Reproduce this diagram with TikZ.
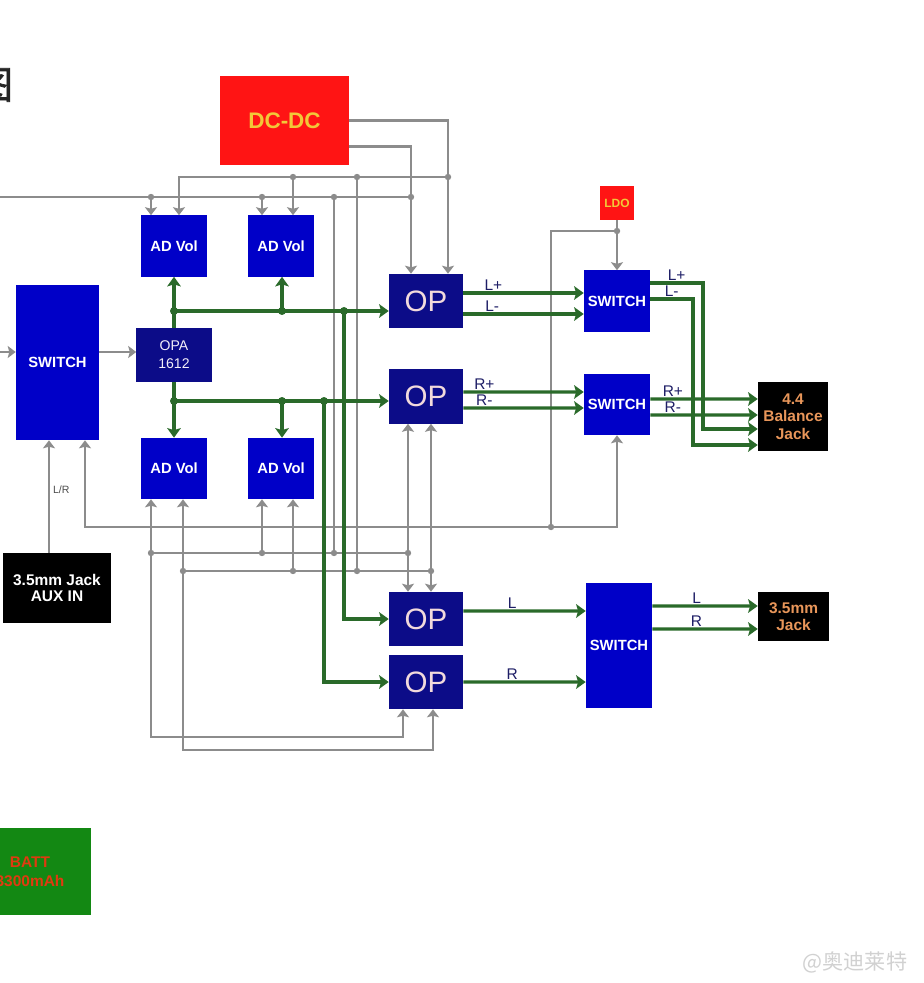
\documentclass[tikz,border=0pt]{standalone}
\usepackage{fontspec}
\setmainfont{Liberation Sans}
\newfontfamily\cjkfont{Noto Sans CJK SC}
\newfontfamily\cjkgras{Noto Sans CJK SC}[FakeBold=2]
\usetikzlibrary{arrows.meta,calc}
\definecolor{bleu}{HTML}{0000C8}
\definecolor{marine}{HTML}{0C0C88}
\definecolor{rouge}{HTML}{FF1414}
\definecolor{jaune}{HTML}{F2C838}
\definecolor{cuivre}{HTML}{E8965A}
\definecolor{gris}{HTML}{8C8C8C}
\definecolor{vert}{HTML}{2A6A2A}
\definecolor{vertbatt}{HTML}{138813}
\definecolor{rougebatt}{HTML}{E03A10}
\definecolor{rose}{HTML}{F2DADC}
\definecolor{encre}{HTML}{1E1E66}

\begin{document}
\begin{tikzpicture}[x=0.025cm,y=-0.025cm,
  blk/.style={inner sep=0pt,align=center},
  adv/.style={blk,fill=bleu,text=white,font=\fontsize{10.5}{12}\selectfont\bfseries,minimum width=1.65cm,minimum height=1.525cm},
  op/.style={blk,fill=marine,text=rose,font=\fontsize{21}{22}\selectfont,minimum width=1.85cm,minimum height=1.35cm},
  jk/.style={blk,fill=black,text=cuivre,font=\fontsize{11}{12.4}\selectfont\bfseries},
  gw/.style={draw=gris,line width=1.7pt},
  gwa/.style={gw,-{Stealth[length=2mm,width=3mm,inset=0.4mm]}},
  gn/.style={draw=vert,line width=2.3pt},
  gna/.style={gn,-{Stealth[length=2.4mm,width=3.4mm,inset=0.5mm]}},
  sig/.style={font=\fontsize{11}{12}\selectfont,text=encre,inner sep=0.8pt},
  lr/.style={font=\fontsize{7.5}{8}\selectfont,text=black!70,inner sep=2pt}]
  \path[use as bounding box,fill=white] (0,0) rectangle (923,983);
  \clip (0,0) rectangle (923,983);
  % Titre et alimentation
  \node[font=\cjkgras\fontsize{27}{28}\selectfont,text=black!85] (titre) at (-6,85) {图};
  \node[blk,fill=rouge,text=jaune,font=\fontsize{16}{18}\selectfont\bfseries,minimum width=3.225cm,minimum height=2.225cm] (dcdc) at (284.5,120.5) {DC-DC};
  \node[blk,fill=rouge,text=jaune,font=\fontsize{8.5}{9}\selectfont\bfseries,minimum size=0.85cm] (ldo) at (617,203) {LDO};
  % Entree
  \node[adv,minimum width=2.075cm,minimum height=3.875cm] (swin) at (57.5,362.5) {SWITCH};
  \node[blk,fill=black,text=white,font=\fontsize{11}{12}\selectfont\bfseries,minimum width=2.7cm,minimum height=1.75cm] (aux) at (57,588) {3.5mm Jack\\AUX IN};
  \node[blk,fill=marine,text=rose!80!blue!20,font=\fontsize{10}{12.8}\selectfont,minimum width=1.875cm,minimum height=1.35cm] (opa) at (174,355) {OPA\\1612};
  % Volume
  \node[adv] (adv1) at (174,246) {AD Vol};
  \node[adv] (adv2) at (281,246) {AD Vol};
  \node[adv] (adv3) at (174,468.5) {AD Vol};
  \node[adv] (adv4) at (281,468.5) {AD Vol};
  % Etages de sortie
  \node[op] (op1) at (426,301) {OP};
  \node[op] (op2) at (426,396.5) {OP};
  \node[op] (op3) at (426,619) {OP};
  \node[op] (op4) at (426,682) {OP};
  \node[adv] (swl) at (617,301) {SWITCH};
  \node[adv] (swr) at (617,404.5) {SWITCH};
  \node[adv,minimum height=3.125cm] (swo) at (619,645.5) {SWITCH};
  \node[jk,minimum width=1.75cm,minimum height=1.725cm] (bal) at (793,416.5) {4.4\\Balance\\Jack};
  \node[jk,minimum width=1.775cm,minimum height=1.225cm] (jack) at (793.5,616.5) {3.5mm\\Jack};
  \node[blk,fill=vertbatt,text=rougebatt,font=\fontsize{11}{13.5}\selectfont\bfseries,minimum width=3.05cm,minimum height=2.175cm] (batt) at (30,871.5) {BATT\\3300mAh};
  \node[font=\cjkfont\fontsize{15}{16}\selectfont,text=black!18] (wm) at (855,962) {@奥迪莱特};
  % Points de liaison
  \coordinate (inL) at (-10,352);
  \coordinate (bL) at (-10,197);
  \coordinate (jA1) at (293,177); \coordinate (jA2) at (357,177); \coordinate (jA3) at (448,177);
  \coordinate (jB1) at (151,197); \coordinate (jB2) at (262,197); \coordinate (jB3) at (334,197); \coordinate (jB4) at (411,197);
  \coordinate (jC1) at (151,553); \coordinate (jC2) at (262,553); \coordinate (jC3) at (334,553); \coordinate (jC4) at (408,553);
  \coordinate (jD1) at (183,571); \coordinate (jD2) at (293,571); \coordinate (jD3) at (357,571); \coordinate (jD4) at (431,571);
  \coordinate (jL1) at (617,231); \coordinate (jL2) at (551,527);
  \coordinate (cC) at (151,737); \coordinate (cD) at (183,750);
  \coordinate (ad1p) at ([xshift=0.125cm]adv1.north);
  \coordinate (op4a) at ([xshift=-0.575cm]op4.south);
  \coordinate (op4b) at ([xshift=0.175cm]op4.south);
  \coordinate (swinp) at ([xshift=0.6875cm]swin.south);
  \coordinate (auxp) at ([xshift=-0.2cm]aux.north);
  \coordinate (gT1) at (174,311); \coordinate (gT2) at (282,311); \coordinate (gT3) at (344,311);
  \coordinate (gB1) at (174,401); \coordinate (gB2) at (282,401); \coordinate (gB3) at (324,401);
  \coordinate (kLp) at (703,429); \coordinate (kLm) at (693,445);
  % Alimentations
  \draw[gwa] (dcdc.east) -| (jA3 |- op1.north);
  \draw[gwa] ([yshift=-0.65cm]dcdc.east) -| (jB4 |- op1.north);
  \draw[gwa] (jA3) -| (ad1p);
  \draw[gwa] (jA1) -- (jA1 |- adv2.north);
  \draw[gw] (bL) -- (jB4);
  \draw[gwa] (jB1) -- (jB1 |- adv1.north);
  \draw[gwa] (jB2) -- (jB2 |- adv2.north);
  \draw[gw] (jB3) -- (jC3);
  \draw[gw] (jA2) -- (jD3);
  \draw[gw] (jC1) -- (jC4);
  \draw[gw] (jD1) -- (jD4);
  \draw[gwa] (jC1) -- (jC1 |- adv3.south);
  \draw[gwa] (jD1) -- (jD1 |- adv3.south);
  \draw[gwa] (jC2) -- (jC2 |- adv4.south);
  \draw[gwa] (jD2) -- (jD2 |- adv4.south);
  \draw[gwa] (jC1) -- (cC) -| (op4a);
  \draw[gwa] (jD1) -- (cD) -| (op4b);
  \foreach \j in {jC4,jD4} {
    \draw[gwa] (\j) -- (\j |- op2.south);
    \draw[gwa] (\j) -- (\j |- op3.north);
  }
  \draw[gwa] (ldo.south) -- (swl.north);
  \draw[gw] (jL1) -| (jL2);
  \draw[gwa] (jL2) -| (swr.south);
  \draw[gwa] (jL2) -| (swinp);
  \draw[gwa] (auxp) -- (auxp |- swin.south) node[pos=0.56,right,lr]{L/R};
  \draw[gwa] (inL) -- (inL -| swin.west);
  \draw[gwa] (inL -| swin.east) -- (inL -| opa.west);
  \foreach \j in {jA1,jA2,jA3,jB1,jB2,jB3,jB4,jC1,jC2,jC3,jC4,jD1,jD2,jD3,jD4,jL1,jL2}
    \fill[gris] (\j) circle (3.2);
  % Signal
  \draw[gna] (opa.north) -- (adv1.south);
  \draw[gna] (opa.south) -- (adv3.north);
  \draw[gna] (gT1) -- (gT1 -| op1.west);
  \draw[gna] (gT2) -- (gT2 |- adv2.south);
  \draw[gna] (gT3) |- (op3.west);
  \draw[gna] (gB1) -- (gB1 -| op2.west);
  \draw[gna] (gB2) -- (gB2 |- adv4.north);
  \draw[gna] (gB3) |- (op4.west);
  \foreach \j in {gT1,gT2,gT3,gB1,gB2,gB3}
    \fill[vert] (\j) circle (4);
  \draw[gna] ([yshift=0.2cm]op1.east) -- node[sig,pos=0.25,above]{L+} ([yshift=0.2cm]swl.west);
  \draw[gna] ([yshift=-0.325cm]op1.east) -- node[sig,pos=0.24,above]{L-} ([yshift=-0.325cm]swl.west);
  \draw[gna] ([yshift=0.1125cm]op2.east) -- node[sig,pos=0.175,above]{R+} ([yshift=0.3125cm]swr.west);
  \draw[gna] ([yshift=-0.2875cm]op2.east) -- node[sig,pos=0.175,above]{R-} ([yshift=-0.0875cm]swr.west);
  \draw[gna] ([yshift=0.45cm]swl.east) -| node[sig,pos=0.25,above]{L+} (kLp) -- (kLp -| bal.west);
  \draw[gna] ([yshift=0.05cm]swl.east) -| node[sig,pos=0.25,above]{L-} (kLm) -- (kLm -| bal.west);
  \draw[gna] ([yshift=0.1375cm]swr.east) -- node[sig,pos=0.21,above]{R+} ([yshift=0.4375cm]bal.west);
  \draw[gna] ([yshift=-0.2625cm]swr.east) -- node[sig,pos=0.21,above]{R-} ([yshift=0.0375cm]bal.west);
  \draw[gna] ([yshift=0.2cm]op3.east) -- node[sig,pos=0.4,above]{L} ([yshift=0.8625cm]swo.west);
  \draw[gna] (op4.east) -- node[sig,pos=0.4,above]{R} ([yshift=-0.9125cm]swo.west);
  \draw[gna] ([yshift=0.9875cm]swo.east) -- node[sig,pos=0.42,above]{L} ([yshift=0.2625cm]jack.west);
  \draw[gna] ([yshift=0.4125cm]swo.east) -- node[sig,pos=0.42,above]{R} ([yshift=-0.3125cm]jack.west);
\end{tikzpicture}
\end{document}
